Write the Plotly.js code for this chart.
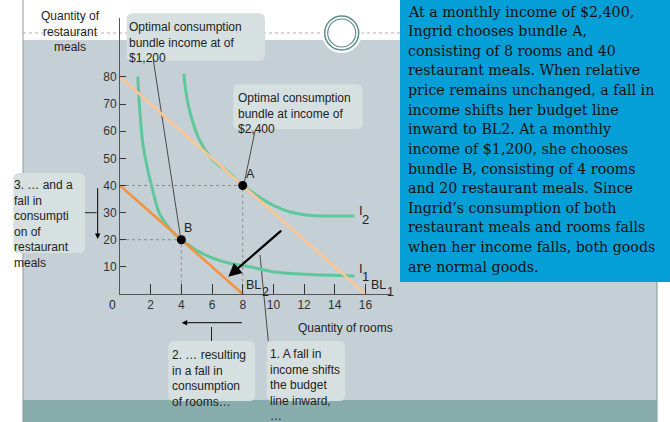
<!DOCTYPE html>
<html>
<head>
<meta charset="utf-8">
<script src="https://cdn.plot.ly/plotly-3.0.1.min.js"></script>
<style>html,body{margin:0;padding:0;background:#fff;}#chart{width:670px;height:422px;}</style>
</head>
<body>
<div id="chart"></div>
<script>
// ---------- data ----------
const roomTicks = [2, 4, 6, 8, 10, 12, 14, 16];
const mealTicks = [10, 20, 30, 40, 50, 60, 70, 80];

const bl1Rooms = [0, 16];
const bl1Meals = [80, 0];
const bl2Rooms = [0, 8];
const bl2Meals = [40, 0];

const i1Rooms = [1.16, 1.27, 1.49, 1.81, 2.10, 2.57, 3.22, 4, 4.96, 6.05, 7.13, 8.44, 9.95, 12.13, 15.28];
const i1Meals = [80.1, 69.2, 55.5, 45.7, 39.0, 29.7, 24.2, 20, 16.2, 13.2, 11.3, 10.05, 8.2, 7.26, 6.63];
const i2Rooms = [4.16, 4.31, 4.64, 5.18, 6.05, 7.13, 8, 8.87, 9.95, 11.04, 12.13, 13.21, 15.28];
const i2Meals = [81.1, 74.0, 65.4, 56.8, 49.4, 44.6, 40, 36.5, 32.8, 30.3, 29.1, 28.75, 28.75];

const bundleLabels = ['A', 'B'];
const bundleRooms = [8, 4];
const bundleMeals = [40, 20];

const sideText = [
  'At a monthly income of $2,400,',
  'Ingrid chooses bundle A,',
  'consisting of 8 rooms and 40',
  'restaurant meals. When relative',
  'price remains unchanged, a fall in',
  'income shifts her budget line',
  'inward to BL2. At a monthly',
  'income of $1,200, she chooses',
  'bundle B, consisting of 4 rooms',
  'and 20 restaurant meals. Since',
  'Ingrid\u2019s consumption of both',
  'restaurant meals and rooms falls',
  'when her income falls, both goods',
  'are normal goods.'
];

// ---------- layout helpers (pixel -> paper) ----------
const ML = 120, MT = 18, PW = 270, PH = 276;
const PX = p => (p - ML) / PW;
const PY = p => (MT + PH - p) / PH;
const SANS = 'Liberation Sans, Arial, sans-serif';
const TXT = '#222';

const shapes = [];
function rect(x0, y0, x1, y1, fill, line) {
  shapes.push({type: 'rect', xref: 'paper', yref: 'paper', layer: 'below',
    x0: PX(x0), x1: PX(x1), y0: PY(y1), y1: PY(y0), fillcolor: fill,
    line: line || {width: 0}});
}
function seg(x0, y0, x1, y1, color, width, dash) {
  shapes.push({type: 'line', xref: 'paper', yref: 'paper', layer: 'below',
    x0: PX(x0), x1: PX(x1), y0: PY(y0), y1: PY(y1),
    line: {color: color, width: width, dash: dash || 'solid'}});
}
function circ(cx, cy, r, fill, line) {
  shapes.push({type: 'circle', xref: 'paper', yref: 'paper', layer: 'below',
    x0: PX(cx - r), x1: PX(cx + r), y0: PY(cy + r), y1: PY(cy - r),
    fillcolor: fill, line: line});
}
function rrect(x0, y0, x1, y1, r, fill) {
  const p = (x, y) => PX(x) + ',' + PY(y);
  const d = 'M' + p(x0 + r, y0) + 'L' + p(x1 - r, y0) + 'Q' + p(x1, y0) + ' ' + p(x1, y0 + r) +
    'L' + p(x1, y1 - r) + 'Q' + p(x1, y1) + ' ' + p(x1 - r, y1) +
    'L' + p(x0 + r, y1) + 'Q' + p(x0, y1) + ' ' + p(x0, y1 - r) +
    'L' + p(x0, y0 + r) + 'Q' + p(x0, y0) + ' ' + p(x0 + r, y0) + 'Z';
  shapes.push({type: 'path', xref: 'paper', yref: 'paper', layer: 'below', path: d,
    fillcolor: fill, line: {width: 0}});
}

// background panels
rect(23, 40, 657, 400, '#c5d0d6');
rect(23, 400, 657, 422, '#89adac');
seg(23, 0, 23, 422, '#8c9a9e', 1);
seg(657, 40, 657, 422, '#8fa5a6', 1.2);
seg(23, 33, 322, 33, '#b0b0b0', 1, 'dot');
seg(361, 33, 400, 33, '#b0b0b0', 1, 'dot');
circ(341.7, 33, 20, '#ffffff', {width: 0});
circ(341.7, 33, 17, 'rgba(0,0,0,0)', {color: '#5f8e8e', width: 1.5});
circ(341.7, 33, 14, 'rgba(0,0,0,0)', {color: '#5f8e8e', width: 1.2});
rect(400, 0, 670, 282, '#049fd6');

// callout boxes
rrect(126.7, 13.3, 265, 61, 6, '#d6e0e1');
rrect(233.3, 84.3, 362.7, 129.3, 6, '#d6e0e1');
rrect(13.3, 173, 85, 253, 6, '#d6e0e1');
rrect(168.3, 341, 255, 401, 6, '#d6e0e1');
rrect(266.7, 341, 345, 401, 6, '#d6e0e1');

// leader lines
seg(153.3, 60, 180.5, 237, '#4a4a4a', 1);
seg(255, 131, 244, 184, '#4a4a4a', 1);
seg(260, 255, 268.3, 341, '#4a4a4a', 1);
seg(211.5, 327, 211.5, 341, '#222', 1);
seg(85, 212.7, 96.7, 212.7, '#222', 1);

// ---------- traces ----------
const traces = [];
function curve(x, y, color, width, shape) {
  traces.push({x: x, y: y, type: 'scatter', mode: 'lines', hoverinfo: 'skip',
    line: {color: color, width: width, shape: shape || 'linear', smoothing: 1}});
}
bundleRooms.forEach((r, i) => {
  traces.push({x: [0, r, r], y: [bundleMeals[i], bundleMeals[i], 0], type: 'scatter',
    mode: 'lines', line: {color: '#8a8a8a', width: 1, dash: 'dot'}, hoverinfo: 'skip'});
});
curve(i1Rooms, i1Meals, '#5ec89b', 3, 'spline');
curve(i2Rooms, i2Meals, '#5ec89b', 3, 'spline');
curve(bl1Rooms, bl1Meals, '#fcc592', 2.6);
curve(bl2Rooms, bl2Meals, '#f59240', 2.6);
traces.push({x: bundleRooms, y: bundleMeals, type: 'scatter', mode: 'markers',
  marker: {color: '#000', size: 9}, hoverinfo: 'skip'});

// ---------- annotations ----------
const ann = [];
function txt(x, y, text, opts) {
  ann.push(Object.assign({xref: 'paper', yref: 'paper', x: PX(x), y: PY(y), text: text,
    showarrow: false, xanchor: 'left', yanchor: 'middle', align: 'left',
    font: {family: SANS, size: 12, color: TXT}}, opts || {}));
}
function arrow(hx, hy, tx, ty, width, size) {
  ann.push({xref: 'paper', yref: 'paper', x: PX(hx), y: PY(hy), ax: tx - hx, ay: ty - hy,
    text: '', showarrow: true, arrowhead: 2, arrowsize: size, arrowwidth: width,
    arrowcolor: '#000', standoff: 0, startstandoff: 0});
}

txt(70, 31.3, 'Quantity of<br>restaurant<br>meals', {xanchor: 'center', align: 'center'});
txt(296, 327.7, 'Quantity of rooms');
txt(112.7, 305, '0', {xanchor: 'center'});

txt(126.5, 42.3, 'Optimal consumption<br>bundle income at of<br>$1,200');
txt(235.5, 113.3, 'Optimal consumption<br>bundle at income of<br>$2,400');
txt(11.5, 223.7, '3. \u2026 and a<br>fall in<br>consumpti<br>on of<br>restaurant<br>meals');
txt(170, 378, '2. \u2026 resulting<br>in a fall in<br>consumption<br>of rooms\u2026');
txt(268.3, 385, '1. A fall in<br>income shifts<br>the budget<br>line inward,<br>\u2026');

// bundle letters
bundleLabels.forEach((l, i) => {
  ann.push({x: bundleRooms[i], y: bundleMeals[i], xref: 'x', yref: 'y', text: l,
    showarrow: false, xanchor: 'center', yanchor: 'middle',
    xshift: i === 0 ? 8 : 7, yshift: i === 0 ? 11.5 : 12,
    font: {family: SANS, size: 12.5, color: TXT}});
});

// curve labels
const lblFont = {family: SANS, size: 13, color: TXT};
txt(360.7, 210, 'I', {xanchor: 'center', font: lblFont});
txt(365.8, 219.5, '2', {xanchor: 'center', font: lblFont});
txt(360.7, 268, 'I', {xanchor: 'center', font: lblFont});
txt(365.3, 276, '1', {xanchor: 'center', font: lblFont, borderpad: 0});
const blFont = {family: SANS, size: 12.5, color: TXT};
txt(243.5, 284.5, 'BL', {font: blFont});
txt(259.5, 292, '2', {font: blFont});
txt(370, 285, 'BL', {font: blFont, borderpad: 0});
txt(385, 292, '1', {font: blFont});

// arrows
arrow(228.3, 276.7, 282.7, 229.3, 2.2, 1.2);
arrow(181.7, 322.7, 243.3, 322.7, 1, 1.1);
arrow(97.7, 239, 97.7, 186.7, 1, 1.1);

// side text
sideText.forEach((line, i) => {
  txt(405.5, 11.7 + i * 19.6, line, {font: {family: 'DejaVu Serif, serif', size: 14.2, color: '#111'}});
});

const layout = {
  width: 670, height: 422,
  margin: {l: ML, r: 670 - ML - PW, t: MT, b: 422 - MT - PH, pad: 0},
  paper_bgcolor: '#ffffff', plot_bgcolor: 'rgba(0,0,0,0)',
  showlegend: false,
  xaxis: {range: [0, 17.6], tickvals: roomTicks, ticktext: roomTicks.map(String),
    showgrid: false, zeroline: false, showline: true, linecolor: '#555', linewidth: 1,
    ticks: 'inside', ticklen: 10, tickcolor: '#333', tickwidth: 1,
    tickfont: {family: SANS, size: 12, color: '#333'}, fixedrange: true},
  yaxis: {range: [0, 101.7], tickvals: mealTicks, ticktext: mealTicks.map(String),
    showgrid: false, zeroline: false, showline: true, linecolor: '#555', linewidth: 1,
    ticks: 'inside', ticklen: 6, tickcolor: '#333', tickwidth: 1,
    tickfont: {family: SANS, size: 12, color: '#333'}, fixedrange: true},
  shapes: shapes,
  annotations: ann
};

Plotly.newPlot('chart', traces, layout, {staticPlot: true, displayModeBar: false});
</script>
</body>
</html>
